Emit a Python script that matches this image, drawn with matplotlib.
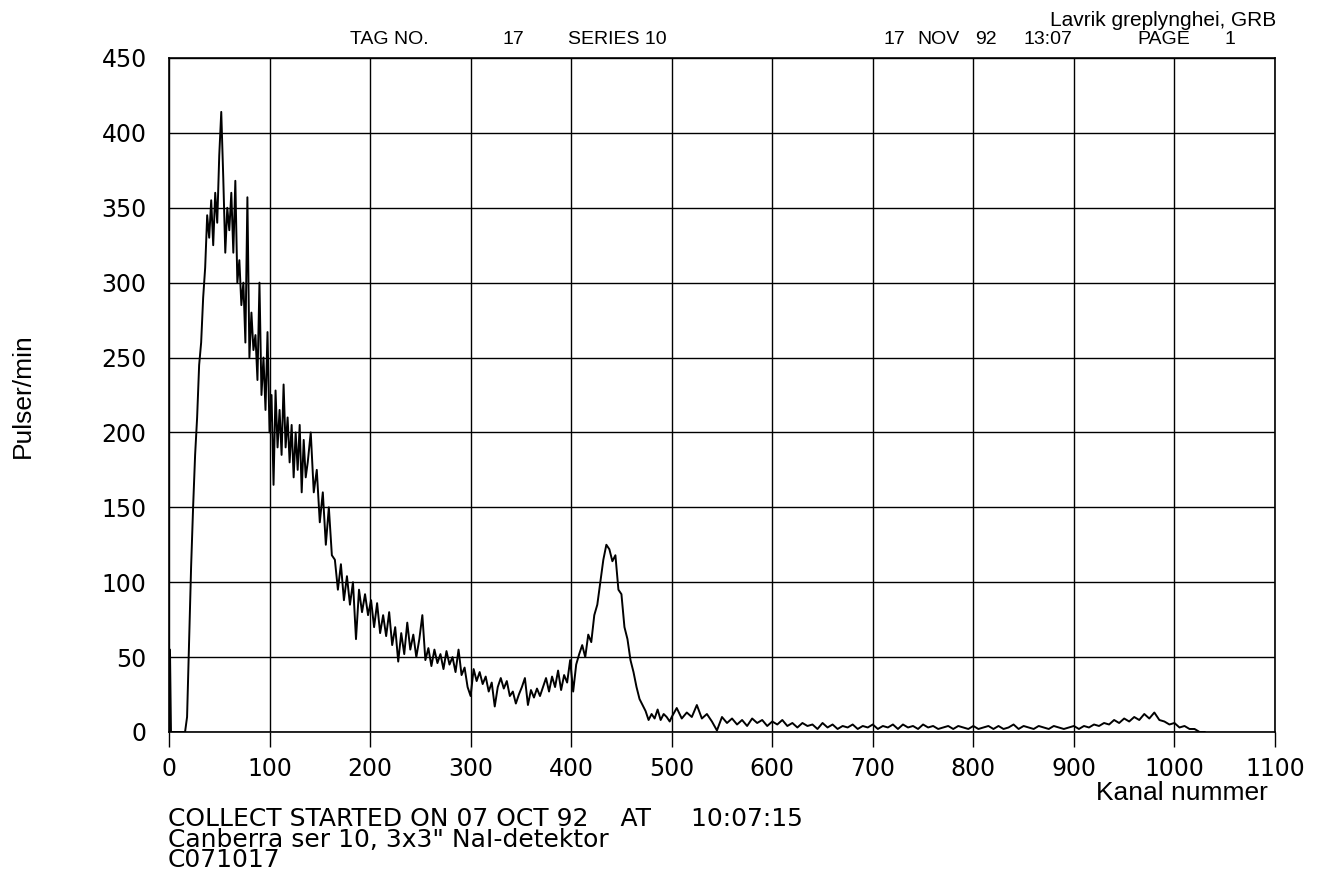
import numpy as np
import matplotlib

matplotlib.use("Agg")
import matplotlib.pyplot as plt

# spectrum: (start channel, step, counts per minute)
start_ch = [0, 1, 2, 16]
start_val = [0, 55, 0, 0]

seg_a_start, seg_a_step = 18, 2
seg_a_val = [
    10, 60, 110, 150, 185, 210, 245, 260, 290, 310,
    345, 330, 355, 325, 360, 340, 385, 414, 370, 320,
    350, 335, 360, 320, 368, 300, 315, 285, 300, 260,
    357, 250, 280, 255, 265, 235, 300, 225, 250, 215,
    267, 200, 225, 165, 228, 190, 215, 185, 232, 190,
    210, 180, 205, 170, 200, 175, 205, 160, 195, 170,
    180,
]

seg_b_start, seg_b_step = 141, 3
seg_b_val = [
    200, 160, 175, 140, 160, 125, 150, 118, 115, 95,
    112, 88, 104, 85, 100, 62, 95, 80, 92, 78,
    88, 70, 86, 66, 78, 64, 80, 58, 70, 47,
    66, 52, 73, 55, 65, 50, 62, 78, 48, 56,
    44, 55, 46, 52, 42, 54, 45, 50, 40, 55,
    38, 43, 30, 24, 42, 34, 40, 32, 37, 27,
    33, 17, 30, 36, 29, 34, 24, 27, 19, 25,
    30, 36, 18, 28, 23, 29, 24, 30, 36, 27,
    37, 30, 41, 28, 38, 33, 48, 27, 45, 52,
    58, 50, 65, 60, 78, 85, 100, 115, 125, 122,
    114, 118, 95, 92, 70, 62, 48, 40, 30, 22,
    18, 14, 8, 12, 9, 15, 8, 12, 10, 7,
]

seg_c_start, seg_c_step = 500, 5
seg_c_val = [
    10, 16, 9, 13, 10, 18, 9, 12, 7, 1,
    10, 6, 9, 5, 8, 4, 9, 6, 8, 4,
    7, 5, 8, 4, 6, 3, 6, 4, 5, 2,
    6, 3, 5, 2, 4, 3, 5, 2, 4, 3,
    5, 2, 4, 3, 5, 2, 5, 3, 4, 2,
    5, 3, 4, 2, 3, 4, 2, 4, 3, 2,
    4, 2, 3, 4, 2, 4, 2, 3, 5, 2,
    4, 3, 2, 4, 3, 2, 4, 3, 2, 3,
    4, 2, 4, 3, 5, 4, 6, 5, 8, 6,
    9, 7, 10, 8, 12, 9, 13, 8, 7, 5,
    6, 3, 4, 2, 2, 0, 0,
]

x_ticks = list(range(0, 1101, 100))
y_ticks = list(range(0, 451, 50))

footer_lines = [
    "COLLECT STARTED ON 07 OCT 92    AT     10:07:15",
    "Canberra ser 10, 3x3\" NaI-detektor",
    "C071017",
]


def _segment(start, step, vals):
    return start + step * np.arange(len(vals))


channels = np.concatenate([
    np.asarray(start_ch),
    _segment(seg_a_start, seg_a_step, seg_a_val),
    _segment(seg_b_start, seg_b_step, seg_b_val),
    _segment(seg_c_start, seg_c_step, seg_c_val),
])
counts = np.concatenate([start_val, seg_a_val, seg_b_val, seg_c_val]).astype(float)

tick_font = "DejaVu Sans"
text_font = "Liberation Sans"

fig = plt.figure(figsize=(13.17, 8.88), dpi=100)
ax = fig.add_axes([0.1283, 0.1757, 0.8398, 0.759])

ax.plot(channels, counts, color="black", linewidth=1.4)

ax.set_xlim(0, 1100)
ax.set_ylim(0, 450)
ax.set_xticks(x_ticks)
ax.set_yticks(y_ticks)
ax.grid(True, color="black", linewidth=1.0)
ax.set_axisbelow(True)
for spine in ax.spines.values():
    spine.set_linewidth(1.2)
ax.tick_params(axis="x", direction="out", length=11, width=1, pad=7, labelsize=17)
ax.tick_params(axis="y", length=0, pad=16, labelsize=17)
for lab in ax.get_xticklabels() + ax.get_yticklabels():
    lab.set_fontfamily(tick_font)

fig.text(0.0175, 0.555, "Pulser/min", rotation=90, ha="center", va="center",
         fontsize=19, family=text_font)
fig.text(0.9628, 0.099, "Kanal nummer", ha="right", va="baseline", fontsize=19, family=text_font)

# header line
hdr_y = 0.950
fig.text(0.9689, 0.9707, "Lavrik greplynghei, GRB", ha="right", va="baseline", fontsize=15, family=text_font)
fig.text(0.2658, hdr_y, "TAG NO.", ha="left", va="baseline", fontsize=14, family=text_font)
fig.text(0.3812, hdr_y, "17", ha="left", va="baseline", fontsize=14, family=text_font)
fig.text(0.4313, hdr_y, "SERIES 10", ha="left", va="baseline", fontsize=14, family=text_font)
fig.text(0.6712, hdr_y, "17", ha="left", va="baseline", fontsize=14, family=text_font)
fig.text(0.6963, hdr_y, "NOV", ha="left", va="baseline", fontsize=14, family=text_font)
fig.text(0.7403, hdr_y, "92", ha="left", va="baseline", fontsize=14, family=text_font)
fig.text(0.7768, hdr_y, "13:07", ha="left", va="baseline", fontsize=14, family=text_font)
fig.text(0.8633, hdr_y, "PAGE", ha="left", va="baseline", fontsize=14, family=text_font)
fig.text(0.9301, hdr_y, "1", ha="left", va="baseline", fontsize=14, family=text_font)

# footer block
fig.text(0.1276, 0.0912, "\n".join(footer_lines), ha="left", va="top", fontsize=18,
         linespacing=0.82, family=tick_font)

fig.savefig("out.png", dpi=100)
plt.close(fig)
